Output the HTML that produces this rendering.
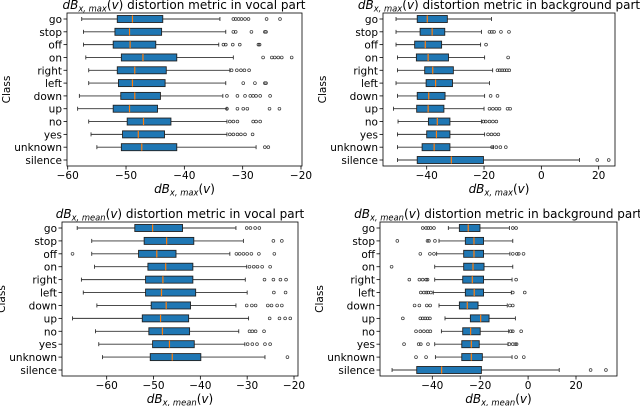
<!DOCTYPE html>
<html><head><meta charset="utf-8"><style>
body{margin:0;background:#fff}
svg{display:block;font-family:"DejaVu Sans","Liberation Sans",sans-serif}
</style></head><body>
<svg id="chart" width="640" height="406" viewBox="0 0 640 406"></svg>
<script>
const categories = ["go","stop","off","on","right","left","down","up","no","yes","unknown","silence"];

// Panel 1: dB max vocal
const p1Lo  = [-57.6,-57.3,-57.3,-56.9,-56.4,-56.4,-58.0,-58.3,-56.4,-56.0,-55.0,null];
const p1Q1  = [-51.5,-51.9,-52.2,-50.8,-51.5,-51.3,-50.9,-52.2,-49.8,-50.6,-50.8,null];
const p1Med = [-48.9,-49.4,-49.3,-47.1,-48.5,-48.9,-48.5,-49.4,-47.0,-47.9,-47.3,null];
const p1Q3  = [-43.7,-43.9,-44.9,-41.3,-43.1,-43.3,-44.1,-44.6,-42.3,-43.4,-41.3,null];
const p1Hi  = [-33.9,-32.9,-34.1,-31.6,-32.2,-32.9,-33.4,-32.7,-32.7,-32.7,-27.7,null];
const p1Out = [[-31.6,-31.2,-30.7,-30.2,-29.6,-29.0,-25.9,-23.6],[-31.6,-31.2,-28.5,-26.2,-26.0],[-33.3,-32.9,-31.7,-30.5,-27.3,-27.1],[-26.5,-25.0,-24.5,-23.9,-23.3,-21.6],[-31.9,-31.0,-30.3,-29.7,-28.9],[-29.9,-27.9,-26.2,-26.0],[-32.7,-30.9,-29.6,-28.7,-28.2,-27.7,-27.0,-25.3],[-32.7,-30.9,-29.9,-29.2,-25.4,-23.7],[-32.2,-31.6,-30.9,-28.2,-27.7,-27.0],[-32.2,-31.6,-30.9,-30.3,-29.6,-28.3],[-26.2,-25.6],[]];

// Panel 2: dB max background
const p2Lo  = [-50.7,-50.7,-50.7,-50.2,-50.2,-50.7,-50.2,-51.6,-50.0,-50.2,-50.2,-50.2];
const p2Q1  = [-43.3,-42.3,-44.2,-43.6,-40.7,-40.2,-43.3,-43.5,-39.4,-40.0,-41.6,-43.3];
const p2Med = [-39.8,-38.1,-40.5,-39.5,-37.9,-36.9,-39.3,-39.5,-36.3,-36.6,-37.4,-31.4];
const p2Q3  = [-32.8,-33.7,-34.8,-32.4,-30.7,-31.0,-33.6,-34.0,-31.9,-31.9,-31.9,-20.2];
const p2Hi  = [-17.4,-20.9,-21.2,-19.8,-17.0,-18.1,-19.8,-20.0,-20.9,-19.8,-16.7,13.3];
const p2Out = [[],[-18.1,-17.3,-16.5,-14.1,-11.3],[-19.3],[-11.6],[-15.3,-14.5,-13.7,-12.9,-12.1,-11.2],[],[-17.7,-15.3],[-18.1,-16.9,-15.7,-14.6,-11.8,-10.9],[-20.2,-19.4,-18.1,-16.9,-15.7],[-18.6,-17.4,-16.2,-15.0],[-17.2,-15.7,-14.3,-12.4],[19.5,23.5]];

// Panel 3: dB mean vocal
const p3Lo  = [-66.3,-63.2,-63.2,-62.6,-65.4,-65.0,-62.1,-67.3,-62.4,-61.7,-60.9,null];
const p3Q1  = [-54.0,-52.0,-53.2,-51.2,-51.7,-51.7,-50.5,-52.4,-51.0,-50.2,-50.7,null];
const p3Med = [-50.2,-47.2,-49.3,-47.4,-48.0,-48.3,-47.3,-48.5,-48.1,-46.6,-46.0,null];
const p3Q3  = [-43.8,-41.4,-45.2,-41.6,-41.6,-41.0,-42.1,-42.5,-42.3,-41.3,-39.9,null];
const p3Hi  = [-32.4,-30.8,-33.7,-30.1,-30.4,-30.0,-32.4,-29.7,-31.8,-30.5,-26.2,null];
const p3Out = [[-30.1,-29.3,-28.3,-27.4],[-24.4,-22.6],[-67.3,-32.3,-31.6,-30.8,-30.0,-29.1,-27.5,-24.2],[-29.5,-28.6,-27.8,-26.8,-25.1],[-26.3,-24.4,-22.9,-21.7],[-24.3,-21.8],[-30.1,-29.0,-28.2,-25.6,-24.8,-23.6,-22.6],[-25.2,-23.1,-21.9,-20.8],[-29.5,-28.9,-28.2,-26.4],[-29.9,-28.9,-27.9,-26.2,-25.1],[-21.4],[]];

// Panel 4: dB mean background
const p4Lo  = [-33.3,-37.2,-38.2,-39.0,-39.0,-39.6,-37.2,-34.7,-36.2,-39.0,-38.7,-56.8];
const p4Q1  = [-28.7,-26.2,-26.9,-26.9,-27.3,-26.2,-28.7,-24.1,-27.3,-27.7,-27.7,-46.5];
const p4Med = [-25.0,-22.6,-22.6,-23.0,-23.3,-22.5,-25.4,-19.8,-24.0,-23.7,-23.7,-36.1];
const p4Q3  = [-20.1,-18.6,-18.6,-18.4,-18.6,-18.6,-20.9,-16.3,-20.0,-20.4,-19.1,-19.5];
const p4Hi  = [-7.8,-6.4,-7.6,-6.4,-6.7,-7.0,-8.7,-5.3,-8.1,-8.4,-6.7,13.0];
const p4Out = [[-44,-42.6,-41.7,-40.7,-39.3,-6.4,-5.0],[-54.6,-42.0,-41.4,-38.9],[-45.0,-41.0,-39.3,-6.4,-4.7,-3.9,-1.9],[-57.0],[-49.6,-45.4,-44.0,-42.6,-42.0,-5.0],[-44.8,-43.5,-42.5,-41.7,-40.6,-6.4,-1.4],[-47.4,-45.4,-42.3,-40.9,-7.6,-6.4],[-52.3,-45.0,-44.0,-43.0,-42.0,-41.0],[-46.8,-45.0,-43.5,-42.0,-40.8,-7.2,-6.4,-2.9],[-51.8,-45.7,-44.8,-41.8,-7.8,-6.4,-5.3,-4.8],[-46.8,-42.6,-5.0,-1.8],[26.1,32.5]];

const panels = [
 {id:"vocal-max", lo:p1Lo,q1:p1Q1,med:p1Med,q3:p1Q3,hi:p1Hi,out:p1Out, ticks:[-60,-50,-40,-30,-20], x0:67,x1:302,top:13,bot:166, d0:-60,d1:-20,r0:67.7,r1:301, sub:"x, max", title:" distortion metric in vocal part", tx:184, ty:9},
 {id:"background-max", lo:p2Lo,q1:p2Q1,med:p2Med,q3:p2Q3,hi:p2Hi,out:p2Out, ticks:[-40,-20,0,20], x0:383,x1:615,top:13,bot:166, d0:-40,d1:20,r0:426.7,r1:598.7, sub:"x, max", title:" distortion metric in background part", tx:499, ty:9},
 {id:"vocal-mean", lo:p3Lo,q1:p3Q1,med:p3Med,q3:p3Q3,hi:p3Hi,out:p3Out, ticks:[-60,-50,-40,-30,-20], x0:62,x1:298,top:222,bot:376, d0:-60,d1:-20,r0:106.7,r1:294, sub:"x, mean", title:" distortion metric in vocal part", tx:180, ty:218},
 {id:"background-mean", lo:p4Lo,q1:p4Q1,med:p4Med,q3:p4Q3,hi:p4Hi,out:p4Out, ticks:[-40,-20,0,20], x0:380,x1:617,top:222,bot:376, d0:-40,d1:20,r0:432.3,r1:576, sub:"x, mean", title:" distortion metric in background part", tx:498, ty:218}
];

const NS="http://www.w3.org/2000/svg";
const svg=document.getElementById("chart");
function mk(tag,attrs,parent){const e=document.createElementNS(NS,tag);for(const k in attrs)e.setAttribute(k,attrs[k]);(parent||svg).appendChild(e);return e;}

function mathLabel(g,x,y,sub,rest,size,anchor){
  const t=mk("text",{x:x,y:y,"font-size":size,"text-anchor":anchor,fill:"#000"},g);
  const a=mk("tspan",{"font-style":"italic"},t);a.textContent="dB";
  const b=mk("tspan",{"font-style":"italic","font-size":size*0.7,dy:2.5},t);b.textContent=sub;
  const c=mk("tspan",{dy:-2.5},t);c.textContent="(";
  const d=mk("tspan",{"font-style":"italic"},t);d.textContent="v";
  const e=mk("tspan",{},t);e.textContent=")"+rest;
  return t;
}

panels.forEach(p=>{
  const g=mk("g",{});
  
  
  const sx=v=>p.r0+(v-p.d0)*(p.r1-p.r0)/(p.d1-p.d0);
  const step=(p.bot-p.top-12)/11;
  const sy=i=>p.top+6+i*step;
  const tt=mathLabel(g,p.tx,p.ty,p.sub,p.title,12,"middle");
  
  
  const fr=mk("rect",{x:p.x0,y:p.top,width:p.x1-p.x0,height:p.bot-p.top,fill:"none",stroke:"#000","stroke-width":0.8},g);
  
  
  p.ticks.forEach(v=>{
    const x=sx(v);
    mk("line",{x1:x,x2:x,y1:p.bot,y2:p.bot+3.5,stroke:"#000","stroke-width":0.8},g);
    const t=mk("text",{x:x,y:p.bot+13,"font-size":10.5,"text-anchor":"middle"},g);
    
    
    t.textContent=(v<0?"\u2212"+(-v):String(v));
  });
  const xl=mathLabel(g,(p.x0+p.x1)/2,p.bot+27,p.sub,"",12,"middle");
  
  
  const yl=mk("text",{x:0,y:0,"font-size":10.5,"text-anchor":"middle",transform:`translate(${p.x0-57},${(p.top+p.bot)/2}) rotate(-90)`},g);
  
  
  yl.textContent="Class";
  categories.forEach((c,i)=>{
    const y=sy(i);
    mk("line",{x1:p.x0-3.5,x2:p.x0,y1:y,y2:y,stroke:"#000","stroke-width":0.8},g);
    const t=mk("text",{x:p.x0-5,y:y+4,"font-size":10.5,"text-anchor":"end"},g);
    
    
    t.textContent=c;
    if(p.lo[i]==null) return;
    const bg=mk("g",{},g);
    
    
    const h=3.5;
    mk("line",{x1:sx(p.lo[i]),x2:sx(p.q1[i]),y1:y,y2:y,stroke:"#333","stroke-width":0.9},bg);
    mk("line",{x1:sx(p.q3[i]),x2:sx(p.hi[i]),y1:y,y2:y,stroke:"#333","stroke-width":0.9},bg);
    mk("line",{x1:sx(p.lo[i]),x2:sx(p.lo[i]),y1:y-2,y2:y+2,stroke:"#333","stroke-width":0.9},bg);
    mk("line",{x1:sx(p.hi[i]),x2:sx(p.hi[i]),y1:y-2,y2:y+2,stroke:"#333","stroke-width":0.9},bg);
    mk("rect",{x:sx(p.q1[i]),y:y-h,width:sx(p.q3[i])-sx(p.q1[i]),height:2*h,fill:"#1f77b4",stroke:"#222","stroke-width":0.9},bg);
    mk("line",{x1:sx(p.med[i]),x2:sx(p.med[i]),y1:y-h,y2:y+h,stroke:"#ff7f0e","stroke-width":1.2},bg);
    p.out[i].forEach(v=>{
      const o=mk("circle",{cx:sx(v),cy:y,r:1.4,fill:"none",stroke:"#333","stroke-width":0.7},bg);
      
      
    });
  });
});
</script>
</body></html>
